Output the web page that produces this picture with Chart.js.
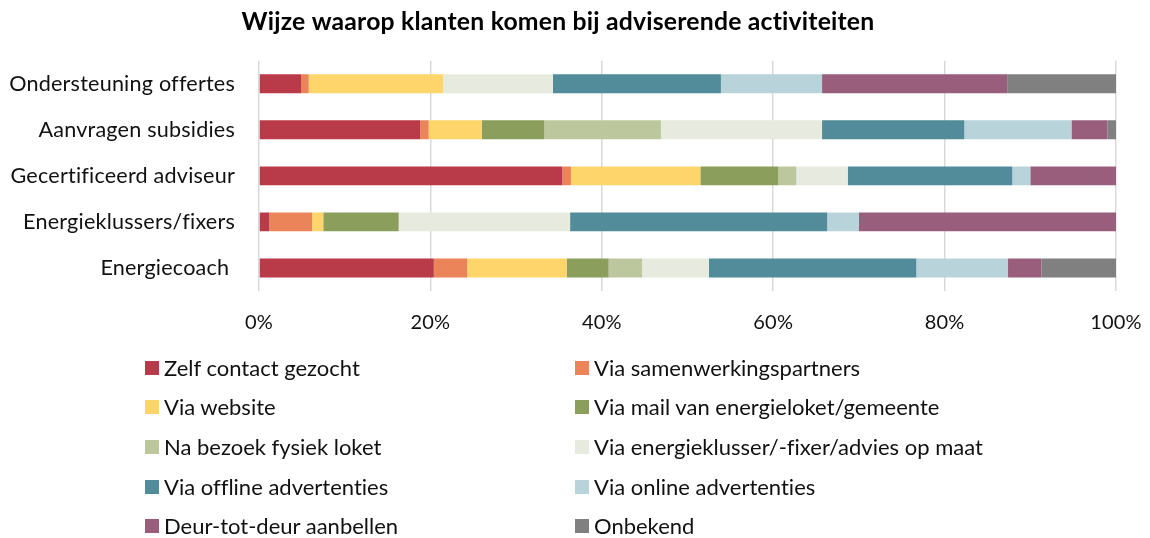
<!DOCTYPE html>
<html>
<head>
<meta charset="utf-8">
<script src="https://cdn.jsdelivr.net/npm/chart.js@4/dist/chart.umd.min.js"></script>
<style>
  html, body { margin: 0; padding: 0; background: #fff; }
  #wrap { position: relative; width: 1150px; height: 538px; }
  #grafiek { position: absolute; left: 0; top: 0; }
  #legenda { position: absolute; left: 0; top: 0; width: 1150px; height: 538px; pointer-events: none; }
  .item { position: absolute; font-family: Lato, "Open Sans", sans-serif; font-size: 22px; color: #111; line-height: 22px; white-space: nowrap; font-variant-ligatures: none; }
  .item span { position: absolute; left: 0; top: 4px; width: 14px; height: 14px; }
  .item b { font-weight: normal; position: absolute; left: 19px; top: 0; }
</style>
</head>
<body>
<div id="wrap">
  <canvas id="grafiek" width="1150" height="345"></canvas>
  <div id="legenda"></div>
</div>
<script>
const titel = "Wijze waarop klanten komen bij adviserende activiteiten";

const categorieen = [
  "Ondersteuning offertes",
  "Aanvragen subsidies",
  "Gecertificeerd adviseur",
  "Energieklussers/fixers",
  "Energiecoach "
];

const series = [
  "Zelf contact gezocht",
  "Via samenwerkingspartners",
  "Via website",
  "Via mail van energieloket/gemeente",
  "Na bezoek fysiek loket",
  "Via energieklusser/-fixer/advies op maat",
  "Via offline advertenties",
  "Via online advertenties",
  "Deur-tot-deur aanbellen",
  "Onbekend"
];

const kleuren = [
  "#B93A48", "#EC845A", "#FED56A", "#8C9E5B", "#BCC79D",
  "#E7EBDF", "#528B99", "#B9D3DA", "#9A5E7D", "#808080"
];

// percentages per reeks, in volgorde van de categorieen
const zelfContact      = [4.9, 18.8, 35.4, 1.2, 20.4];
const samenwerking     = [0.9, 1.0, 1.0, 5.0, 3.9];
const website          = [15.7, 6.2, 15.1, 1.3, 11.6];
const mailEnergieloket = [0.0, 7.3, 9.1, 8.8, 4.9];
const fysiekLoket      = [0.0, 13.6, 2.1, 0.0, 3.9];
const energieklusser   = [12.8, 18.8, 6.0, 20.0, 7.8];
const offline          = [19.6, 16.6, 19.2, 30.0, 24.2];
const online           = [11.8, 12.5, 2.1, 3.7, 10.7];
const deurTotDeur      = [21.6, 4.2, 10.0, 30.0, 3.9];
const onbekend         = [12.7, 1.0, 0.0, 0.0, 8.7];

const waarden = [zelfContact, samenwerking, website, mailEnergieloket, fysiekLoket,
  energieklusser, offline, online, deurTotDeur, onbekend];

const xTicks = [0, 20, 40, 60, 80, 100];

const lettertype = "Lato, 'Open Sans', sans-serif";

// geen "ti"-ligaturen op het canvas
const geenLigaturen = {
  id: "geenLigaturen",
  beforeDraw(chart) { chart.ctx.letterSpacing = "0.2px"; }
};

const grafiek = new Chart(document.getElementById("grafiek"), {
  type: "bar",
  plugins: [geenLigaturen],
  data: {
    labels: categorieen,
    datasets: series.map((naam, i) => ({
      label: naam,
      data: waarden[i],
      backgroundColor: kleuren[i],
      borderWidth: 0,
      categoryPercentage: 1,
      barPercentage: 0.41
    }))
  },
  options: {
    indexAxis: "y",
    responsive: false,
    animation: false,
    layout: { padding: { top: 0, right: 34, bottom: 0, left: 0 } },
    plugins: {
      legend: { display: false },
      tooltip: { enabled: false },
      title: {
        display: true,
        text: titel,
        color: "#000",
        font: { family: lettertype, size: 24.75, weight: "bold" },
        padding: { top: 7, bottom: 24 }
      }
    },
    scales: {
      x: {
        stacked: true,
        min: 0,
        max: 100,
        afterBuildTicks: s => { s.ticks = xTicks.map(v => ({ value: v })); },
        afterFit: s => { s.height = 54; s.paddingRight = 0; s.paddingLeft = 0; },
        ticks: {
          callback: v => v + "%",
          color: "#111",
          font: { family: lettertype, size: 20 },
          padding: 20,
          maxRotation: 0
        },
        grid: { color: "#D9D9D9", lineWidth: 1.5, drawTicks: false },
        border: { display: false }
      },
      y: {
        stacked: true,
        afterFit: s => { s.width = 259; },
        ticks: {
          color: "#111",
          font: { family: lettertype, size: 21.6 },
          padding: 16
        },
        grid: { display: false },
        border: { display: false }
      }
    }
  }
});

// legenda in twee kolommen, zoals in het origineel
const legenda = document.getElementById("legenda");
const kolomX = [145, 575];
const rijY = [357, 396, 436, 476, 515];
grafiek.data.datasets.forEach((ds, i) => {
  const el = document.createElement("div");
  el.className = "item";
  el.style.left = kolomX[i % 2] + "px";
  el.style.top = rijY[Math.floor(i / 2)] + "px";
  el.innerHTML = `<span style="background:${ds.backgroundColor}"></span><b>${ds.label}</b>`;
  legenda.appendChild(el);
});
</script>
</body>
</html>
